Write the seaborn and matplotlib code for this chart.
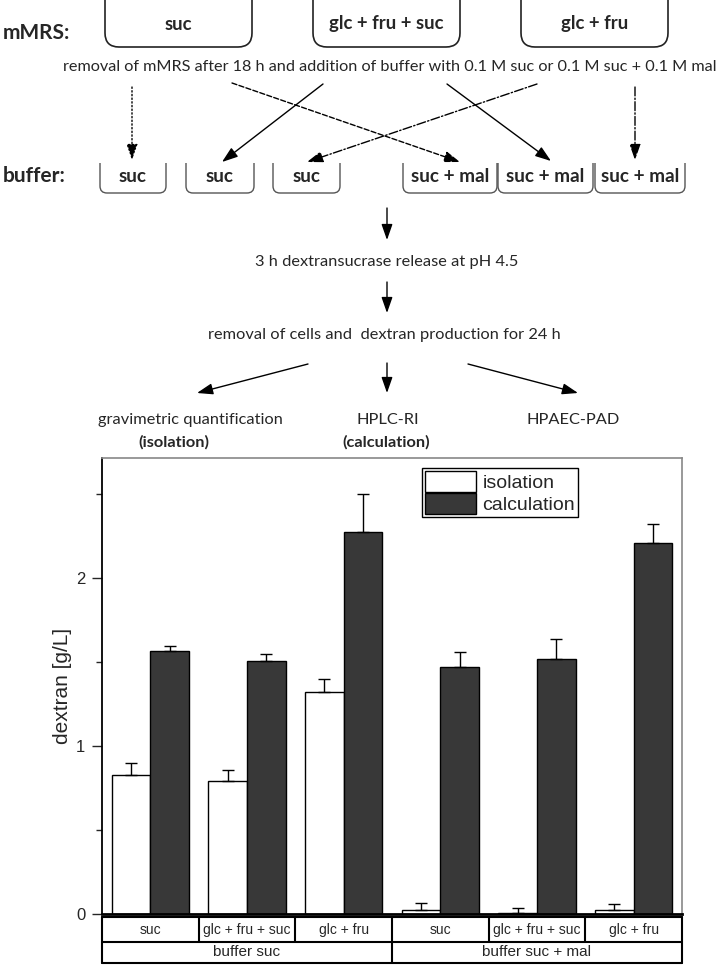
import numpy as np
import pandas as pd
import matplotlib
matplotlib.use("Agg")
import matplotlib.pyplot as plt
import matplotlib.transforms as mtransforms
from matplotlib.path import Path
from matplotlib.patches import PathPatch
import seaborn as sns

# data
medium = ["suc", "glc + fru + suc", "glc + fru", "suc", "glc + fru + suc", "glc + fru"]
buffer = ["buffer suc"] * 3 + ["buffer suc + mal"] * 3
iso = [0.83, 0.79, 1.32, 0.024, 0.004, 0.026]
iso_err = [0.07, 0.065, 0.08, 0.043, 0.03, 0.032]
calc = [1.565, 1.506, 2.275, 1.472, 1.518, 2.208]
calc_err = [0.028, 0.043, 0.225, 0.088, 0.12, 0.115]
methods = ["isolation", "calculation"]

cond = [f"{b}|{m}" for b, m in zip(buffer, medium)]
df = pd.DataFrame({
    "cond": cond * 2,
    "method": ["isolation"] * 6 + ["calculation"] * 6,
    "dextran": iso + calc,
})

sns.set_theme(style="ticks")
plt.rcParams["font.family"] = ["Liberation Sans", "DejaVu Sans"]
DIAG = ["Lato", "DejaVu Sans"]

W, H = 720, 966
fig = plt.figure(figsize=(W / 100, H / 100), dpi=100)

# --- flow diagram on a pixel overlay ---
ov = fig.add_axes([0, 0, 1, 1])
ov.set_xlim(0, W)
ov.set_ylim(H, 0)
ov.axis("off")


def open_box(x0, x1, y0, y1, r, color="#222222", lw=1.2):
    verts = [(x0, y0), (x0, y1 - r), (x0, y1), (x0 + r, y1),
             (x1 - r, y1), (x1, y1), (x1, y1 - r), (x1, y0)]
    codes = [Path.MOVETO, Path.LINETO, Path.CURVE3, Path.CURVE3,
             Path.LINETO, Path.CURVE3, Path.CURVE3, Path.LINETO]
    ov.add_patch(PathPatch(Path(verts, codes), fill=False, ec=color, lw=lw))


def arrow(x0, y0, x1, y1, ls="-"):
    ov.annotate("", xy=(x1, y1), xytext=(x0, y0),
                arrowprops=dict(arrowstyle="-|>,head_length=0.8,head_width=0.28",
                                color="black", lw=1.0, ls=ls,
                                shrinkA=0, shrinkB=0))


ov.text(3, 33, "mMRS:", fontsize=15, fontweight="bold", family=DIAG, va="center")
ov.text(3, 176, "buffer:", fontsize=15, fontweight="bold", family=DIAG, va="center")

top_boxes = [(105, 252, "suc"), (313, 460, "glc + fru + suc"), (521, 668, "glc + fru")]
for x0, x1, lab in top_boxes:
    open_box(x0, x1, -2, 47, 14)
    ov.text((x0 + x1) / 2, 24, lab, fontsize=13.3, fontweight="bold",
            family=DIAG, ha="center", va="center")

ov.text(390, 67, "removal of mMRS after 18 h and addition of buffer with 0.1 M suc or 0.1 M suc + 0.1 M mal",
        fontsize=11.7, family=DIAG, ha="center", va="center")

buf_boxes = [(100, 166, "suc"), (186, 254, "suc"), (273, 340, "suc"),
             (403, 497, "suc + mal"), (498, 593, "suc + mal"), (595, 685, "suc + mal")]
for x0, x1, lab in buf_boxes:
    open_box(x0, x1, 163, 193, 7, color="#555555", lw=1.0)
    ov.text((x0 + x1) / 2, 177, lab, fontsize=13.6, fontweight="bold",
            family=DIAG, ha="center", va="center")

arrow(132, 87, 132, 160, ":")
arrow(232, 83, 460, 162, "--")
arrow(323, 84, 222, 162, "-")
arrow(447, 84, 551, 161, "-")
arrow(537, 84, 307, 162, "-.")
arrow(635, 87, 635, 160, "-.")

arrow(387, 208, 387, 240)
ov.text(387, 262, "3 h dextransucrase release at pH 4.5", fontsize=11.8,
        family=DIAG, ha="center", va="center")
arrow(387, 282, 387, 313)
ov.text(384, 335, "removal of cells and  dextran production for 24 h", fontsize=11.8,
        family=DIAG, ha="center", va="center")
arrow(387, 363, 387, 393)
arrow(308, 364, 197, 393)
arrow(468, 364, 578, 393)

ov.text(190, 420, "gravimetric quantification", fontsize=11.8, family=DIAG, ha="center", va="center")
ov.text(174, 442, "(isolation)", fontsize=11.8, fontweight="bold", family=DIAG, ha="center", va="center")
ov.text(388, 420, "HPLC-RI", fontsize=11.8, family=DIAG, ha="center", va="center")
ov.text(386, 442, "(calculation)", fontsize=11.8, fontweight="bold", family=DIAG, ha="center", va="center")
ov.text(573, 420, "HPAEC-PAD", fontsize=11.8, family=DIAG, ha="center", va="center")

# --- bar chart ---
ax = fig.add_axes([102 / W, 1 - 914 / H, 580 / W, 456 / H])
sns.barplot(data=df, x="cond", y="dextran", hue="method", order=cond,
            hue_order=methods, palette={"isolation": "white", "calculation": "#383838"},
            edgecolor="black", linewidth=1.0, width=0.8, errorbar=None, ax=ax)

for cont, errs in zip(ax.containers, [iso_err, calc_err]):
    xs = [b.get_x() + b.get_width() / 2 for b in cont]
    hs = [b.get_height() for b in cont]
    ax.errorbar(xs, hs, yerr=[np.zeros(len(errs)), errs], fmt="none",
                ecolor="black", elinewidth=1.0, capsize=4, capthick=1.0, zorder=1)

ax.set_ylim(0, 2.714)
ax.set_xlim(-0.5, 5.5)
ax.set_yticks([0, 1, 2])
ax.set_yticks([0.5, 1.5, 2.5], minor=True)
ax.tick_params(axis="y", which="major", length=7, width=1, labelsize=12, direction="out", pad=5)
ax.tick_params(axis="y", which="minor", length=4, width=1, direction="out", left=True)
ax.tick_params(axis="x", bottom=False, labelbottom=False)
ax.set_xlabel("")
ax.set_ylabel("dextran [g/L]", fontsize=15, labelpad=3)

for s in ["top", "right"]:
    ax.spines[s].set_visible(True)
    ax.spines[s].set_color("#888888")
    ax.spines[s].set_linewidth(1.2)
ax.spines["left"].set_color("black")
ax.spines["left"].set_linewidth(1.3)
ax.spines["bottom"].set_color("black")
ax.spines["bottom"].set_linewidth(2.0)

handles, labels = ax.get_legend_handles_labels()
ax.legend(handles, labels, loc="upper left", bbox_to_anchor=(0.552, 0.978),
          borderaxespad=0, fontsize=14, frameon=True, fancybox=False,
          edgecolor="black", framealpha=1, handlelength=2.6, handleheight=1.3,
          labelspacing=0.05, handletextpad=0.35, borderpad=0.15)
ax.get_legend().get_frame().set_linewidth(1.0)

# category table under the axis
tr = mtransforms.blended_transform_factory(ax.transData, ax.transAxes)
y_top, y_mid, y_bot = -0.0066, -0.0614, -0.107
kw = dict(transform=tr, color="black", lw=1.5, clip_on=False)
ax.plot([-0.5, 5.5], [y_top, y_top], **kw)
ax.plot([-0.5, 5.5], [y_mid, y_mid], **kw)
ax.plot([-0.5, 5.5], [y_bot, y_bot], **kw)
for xb in [-0.5, 2.5, 5.5]:
    ax.plot([xb, xb], [y_top, y_bot], **kw)
for xb in [0.5, 1.5, 3.5, 4.5]:
    ax.plot([xb, xb], [y_top, y_mid], **kw)
for i, m in enumerate(medium):
    ax.text(i, (y_top + y_mid) / 2, m, transform=tr, ha="center", va="center", fontsize=10)
for i, b in zip([1, 4], ["buffer suc", "buffer suc + mal"]):
    ax.text(i, (y_mid + y_bot) / 2, b, transform=tr, ha="center", va="center", fontsize=11)

fig.savefig("out.png", dpi=100, facecolor="white")
